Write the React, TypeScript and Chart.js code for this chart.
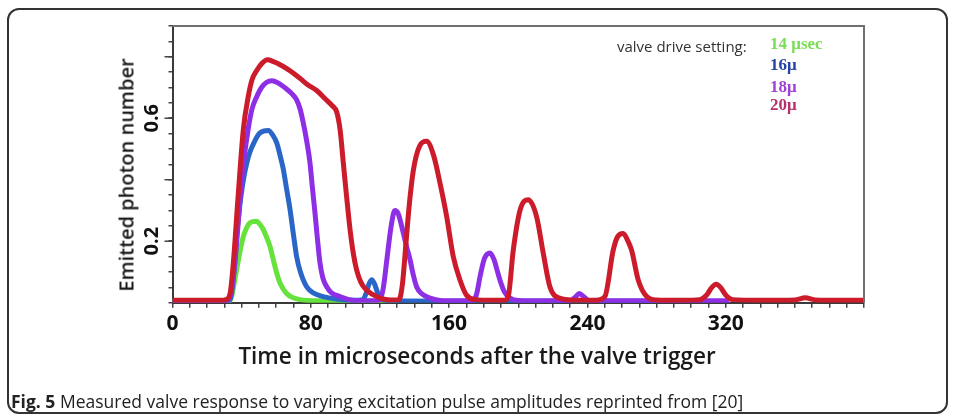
import React, { useEffect, useRef } from "react";
import { Chart, registerables } from "chart.js";

Chart.register(...registerables);

// ---- data (time in microseconds, emitted photon number) ----
const X_LABELED_TICKS = [0, 80, 160, 240, 320];
const Y_LABELED_TICKS = [0.2, 0.6];
const Y_MAJOR_TICKS = [0.2, 0.4, 0.6, 0.8];

const SETTING_14: [number, number][] = [
  [0, 0.005], [20, 0.005], [33, 0.006], [34.2, 0.02], [35.6, 0.06], [37.1, 0.107],
  [39, 0.165], [41, 0.216], [43, 0.245], [44.8, 0.26], [48.7, 0.265], [50.5, 0.255],
  [52.5, 0.238], [54.5, 0.212], [56.4, 0.183], [58.4, 0.138], [60.3, 0.096],
  [62.5, 0.06], [66, 0.03], [69.5, 0.017], [73.7, 0.01], [85, 0.006], [130, 0.005],
];

const SETTING_16: [number, number][] = [
  [0, 0.005], [20, 0.005], [32, 0.006], [34.2, 0.03], [35.7, 0.11], [37.1, 0.216],
  [39, 0.32], [41, 0.4], [43, 0.455], [44.8, 0.49], [47.5, 0.525], [50.6, 0.552],
  [55.4, 0.56], [58, 0.545], [60.3, 0.52], [62.2, 0.48], [64.1, 0.434], [66, 0.37],
  [68, 0.303], [70, 0.22], [71.8, 0.15], [74, 0.1], [77.6, 0.052], [82, 0.03],
  [87, 0.02], [95, 0.012], [105, 0.008], [110, 0.01], [112, 0.03], [113.6, 0.06],
  [115.2, 0.075], [116.8, 0.062], [118.5, 0.035], [121, 0.012], [127, 0.006],
  [160, 0.005], [220, 0.005], [300, 0.005],
];

const SETTING_18: [number, number][] = [
  [0, 0.005], [20, 0.005], [31, 0.006], [33.5, 0.025], [36.1, 0.13], [38, 0.26],
  [40, 0.4], [43.8, 0.565], [46, 0.63], [48.7, 0.67], [51.5, 0.7], [54.5, 0.717],
  [57.5, 0.722], [61, 0.715], [66, 0.695], [69, 0.68], [71.8, 0.66], [73.8, 0.63],
  [75.6, 0.586], [77.5, 0.53], [79.5, 0.456], [81, 0.37], [82.4, 0.293], [83.8, 0.21],
  [85.3, 0.13], [87, 0.08], [89.2, 0.052], [92, 0.032], [96.9, 0.02], [102, 0.01],
  [108, 0.006], [116, 0.006], [120, 0.01], [122, 0.05], [124, 0.14], [126.5, 0.25],
  [128.6, 0.3], [130.5, 0.29], [133.5, 0.227], [135.5, 0.18], [137.4, 0.14],
  [139.3, 0.09], [141.2, 0.052], [144, 0.03], [149, 0.015], [155, 0.007],
  [165, 0.006], [174, 0.008], [176, 0.03], [177.9, 0.085], [180.5, 0.145],
  [183.6, 0.162], [186, 0.14], [187.8, 0.105], [189.4, 0.074], [192, 0.035],
  [195.2, 0.015], [200, 0.007], [215, 0.006], [230, 0.007], [233, 0.018],
  [235.3, 0.03], [238, 0.019], [241, 0.007], [260, 0.006], [290, 0.006], [322, 0.006],
];

const SETTING_20: [number, number][] = [
  [0, 0.008], [15, 0.008], [28, 0.008], [31, 0.01], [33.3, 0.03], [35.2, 0.13],
  [38, 0.35], [41, 0.565], [43.8, 0.67], [46, 0.725], [48.7, 0.755], [52, 0.78],
  [55, 0.79], [58, 0.785], [62, 0.775], [67, 0.758], [73.7, 0.73], [78, 0.71],
  [83.4, 0.69], [88, 0.665], [92.5, 0.64], [95, 0.62], [97, 0.56], [98.8, 0.455],
  [100.8, 0.34], [102.7, 0.238], [104.6, 0.16], [106.5, 0.107], [109, 0.066],
  [112, 0.042], [116, 0.026], [121, 0.013], [126, 0.009], [131, 0.01], [133, 0.06],
  [135, 0.19], [137, 0.32], [139.3, 0.43], [143, 0.51], [147, 0.525], [151, 0.48],
  [154.7, 0.39], [158.6, 0.28], [162.4, 0.15], [166.3, 0.074], [170, 0.025],
  [175, 0.01], [185, 0.008], [192, 0.008], [194.2, 0.02], [197.1, 0.17], [201, 0.3],
  [205.8, 0.335], [210.6, 0.28], [214.5, 0.16], [218.3, 0.052], [224, 0.015],
  [235, 0.008], [245, 0.008], [250.1, 0.02], [254.9, 0.17], [257.5, 0.215],
  [260.7, 0.225], [263.5, 0.2], [265.6, 0.17], [269.4, 0.074], [274.3, 0.02],
  [280, 0.009], [295, 0.008], [305, 0.01], [309, 0.025], [312, 0.05], [314.5, 0.06],
  [317, 0.05], [320, 0.025], [324, 0.01], [340, 0.008], [360, 0.009], [366, 0.016],
  [372, 0.009], [385, 0.008], [400, 0.008],
];

const SERIES = [
  { name: "20μ", points: SETTING_20, color: "#cc1b2b" },
  { name: "18μ", points: SETTING_18, color: "#8e2fe6" },
  { name: "16μ", points: SETTING_16, color: "#2a66c8" },
  { name: "14 μsec", points: SETTING_14, color: "#66e23c" },
];

const LEGEND_ITEMS = [
  { text: "14 μsec", color: "#79dd55" },
  { text: "16μ", color: "#2444a6" },
  { text: "18μ", color: "#a03fd8" },
  { text: "20μ", color: "#b5306c" },
];

const W = 956;
const H = 416;
const PLOT_LEFT = 172.5;
const PLOT_RIGHT = 864;
const PLOT_TOP = 26;
const PLOT_BOTTOM = 302.7;

const framePlugin = {
  id: "frame",
  afterDraw(chart: any) {
    const { ctx, chartArea, scales } = chart;
    const { left, right, top, bottom } = chartArea;
    ctx.save();
    ctx.strokeStyle = "#707070";
    ctx.lineWidth = 2;
    ctx.beginPath();
    ctx.moveTo(left, top);
    ctx.lineTo(right, top);
    ctx.lineTo(right, bottom);
    ctx.stroke();
    ctx.strokeStyle = "#444";
    ctx.lineWidth = 1.5;
    for (const v of Y_MAJOR_TICKS) {
      const py = scales.y.getPixelForValue(v);
      ctx.beginPath();
      ctx.moveTo(left - 8, py);
      ctx.lineTo(left, py);
      ctx.stroke();
    }
    ctx.restore();
  },
};

function PhotonChart() {
  const ref = useRef<HTMLCanvasElement | null>(null);
  useEffect(() => {
    if (!ref.current) return;
    const chart = new Chart(ref.current, {
      type: "line",
      data: {
        datasets: SERIES.map((s) => ({
          label: s.name,
          data: s.points.map(([x, y]) => ({ x, y })),
          borderColor: s.color,
          backgroundColor: s.color,
          borderWidth: 5,
          pointRadius: 0,
          cubicInterpolationMode: "monotone" as const,
          fill: false,
        })),
      },
      plugins: [framePlugin],
      options: {
        responsive: false,
        animation: false,
        parsing: true,
        layout: {
          padding: { left: 0, top: PLOT_TOP, right: W - PLOT_RIGHT, bottom: 0 },
        },
        plugins: { legend: { display: false }, tooltip: { enabled: false } },
        scales: {
          x: {
            type: "linear",
            min: 0,
            max: 400,
            afterFit: (scale: any) => {
              scale.height = H - PLOT_BOTTOM;
            },
            grid: {
              drawOnChartArea: false,
              drawTicks: true,
              tickLength: 5,
              color: "#444",
              lineWidth: 1.5,
            },
            border: { display: true, color: "#3a3a3a", width: 2 },
            ticks: {
              stepSize: 10,
              autoSkip: false,
              maxRotation: 0,
              padding: 4,
              color: "#111",
              font: { family: "'Open Sans', sans-serif", size: 21, weight: "bold" },
              callback: (v: any) => (X_LABELED_TICKS.includes(Number(v)) ? String(v) : ""),
            },
          },
          y: {
            type: "linear",
            min: 0,
            max: 0.9,
            afterFit: (scale: any) => {
              scale.width = PLOT_LEFT;
            },
            grid: {
              drawOnChartArea: false,
              drawTicks: true,
              tickLength: 4,
              color: "#444",
              lineWidth: 1.5,
            },
            border: { display: true, color: "#3a3a3a", width: 2 },
            ticks: {
              stepSize: 0.05,
              autoSkip: false,
              minRotation: 90,
              maxRotation: 90,
              crossAlign: "center",
              padding: 2,
              color: "#111",
              font: { family: "'Open Sans', sans-serif", size: 20, weight: "bold" },
              callback: (v: any) => {
                const n = Number(v);
                return Y_LABELED_TICKS.some((t) => Math.abs(t - n) < 1e-6) ? n.toFixed(1) : "";
              },
            },
          },
        },
      },
    });
    return () => chart.destroy();
  }, []);
  return <canvas ref={ref} width={W} height={H} style={{ position: "absolute", left: 0, top: 0 }} />;
}

export default function App() {
  const sans = "'Open Sans', sans-serif";
  const serif = "'Liberation Serif', 'DejaVu Serif', serif";
  return (
    <div
      style={{
        position: "fixed",
        left: 0,
        top: 0,
        width: W,
        height: H,
        background: "#fff",
        overflow: "hidden",
      }}
    >
      <div
        style={{
          position: "absolute",
          left: 7,
          top: 8,
          width: 941,
          height: 406,
          border: "2px solid #333",
          borderRadius: 12,
          boxSizing: "border-box",
        }}
      />
      <PhotonChart />
      <div
        style={{
          position: "absolute",
          left: 126,
          top: 175,
          transform: "translate(-50%, -50%) rotate(-90deg)",
          whiteSpace: "nowrap",
          fontFamily: sans,
          fontWeight: 600,
          fontSize: 20,
          color: "#1a1a1a",
        }}
      >
        Emitted photon number
      </div>
      <div
        style={{
          position: "absolute",
          left: 477,
          top: 355,
          transform: "translate(-50%, -50%)",
          whiteSpace: "nowrap",
          fontFamily: sans,
          fontWeight: 600,
          fontSize: 22.5,
          color: "#1a1a1a",
        }}
      >
        Time in microseconds after the valve trigger
      </div>
      <div
        style={{
          position: "absolute",
          left: 617,
          top: 46,
          transform: "translateY(-50%)",
          whiteSpace: "nowrap",
          fontFamily: sans,
          fontSize: 15,
          color: "#333",
        }}
      >
        valve drive setting:
      </div>
      {LEGEND_ITEMS.map((it, i) => (
        <div
          key={it.text}
          style={{
            position: "absolute",
            left: 770,
            top: [43.5, 65, 86.5, 105][i],
            transform: "translateY(-50%)",
            whiteSpace: "nowrap",
            fontFamily: serif,
            fontWeight: "bold",
            fontSize: 17,
            color: it.color,
          }}
        >
          {it.text}
        </div>
      ))}
      <div
        style={{
          position: "absolute",
          left: 11,
          top: 401,
          transform: "translateY(-50%)",
          whiteSpace: "nowrap",
          fontFamily: sans,
          fontSize: 17.5,
          color: "#222",
        }}
      >
        <b>Fig. 5</b> Measured valve response to varying excitation pulse amplitudes reprinted from [20]
      </div>
    </div>
  );
}
